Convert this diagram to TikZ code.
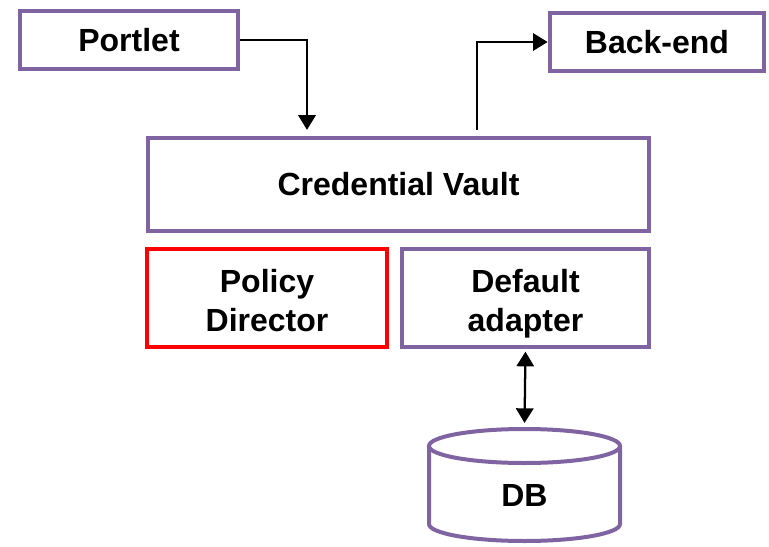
\documentclass[tikz,border=0pt]{standalone}
\usepackage{fontspec}
\setmainfont{Liberation Sans}
\usetikzlibrary{arrows.meta}
\definecolor{vaultpurple}{HTML}{8064A2}
\begin{document}
\begin{tikzpicture}[x=0.75pt,y=-0.75pt,
      box/.style={draw=vaultpurple,line width=3pt,align=center,
        font=\fontsize{24}{29}\selectfont\bfseries,inner sep=0pt},
      twoline/.style={box,text height=50pt,text depth=0pt},
      redbox/.style={twoline,draw=red},
      arr/.style={line width=1.7pt,-{Triangle[length=11pt,width=13pt]}},
      dblarr/.style={line width=1.7pt,{Triangle[length=11pt,width=13pt]}-{Triangle[length=11pt,width=13pt]}}]
    \useasboundingbox (0,0) rectangle (769,547);
    \node[box,minimum width=163.5pt,minimum height=44pt] (portlet) at (129,40) {Portlet};
    \node[box,minimum width=161pt,minimum height=44pt] (backend) at (657,42) {Back-end};
    \node[box,minimum width=375.5pt,minimum height=70pt] (vault) at (398.5,184.5) {Credential Vault};
    \node[redbox,minimum width=180pt,minimum height=73.5pt] (policy) at (267,298) {Policy\\Director};
    \node[twoline,minimum width=185pt,minimum height=73.5pt] (adapter) at (525.5,298) {Default\\adapter};
    % DB cylinder
    \draw[draw=vaultpurple,line width=3pt] (524.5,446) ellipse[x radius=95.5,y radius=17];
    \draw[draw=vaultpurple,line width=3pt] (429,446) -- (429,524)
        arc[start angle=180,end angle=0,x radius=95.5,y radius=17] -- (620,446);
    \coordinate (dbtop) at (524.5,427);
    \node[font=\fontsize{24}{29}\selectfont\bfseries] (db) at (524.5,495) {DB};
    % connectors
    \draw[arr] (portlet.east) -| ([shift={(-91.5,-6)}]vault.north);
    \draw[arr] ([shift={(78.5,-6)}]vault.north) |- (backend.west);
    \draw[dblarr,shorten <=2pt,shorten >=3pt] (adapter.south) -- (dbtop);
\end{tikzpicture}
\end{document}
